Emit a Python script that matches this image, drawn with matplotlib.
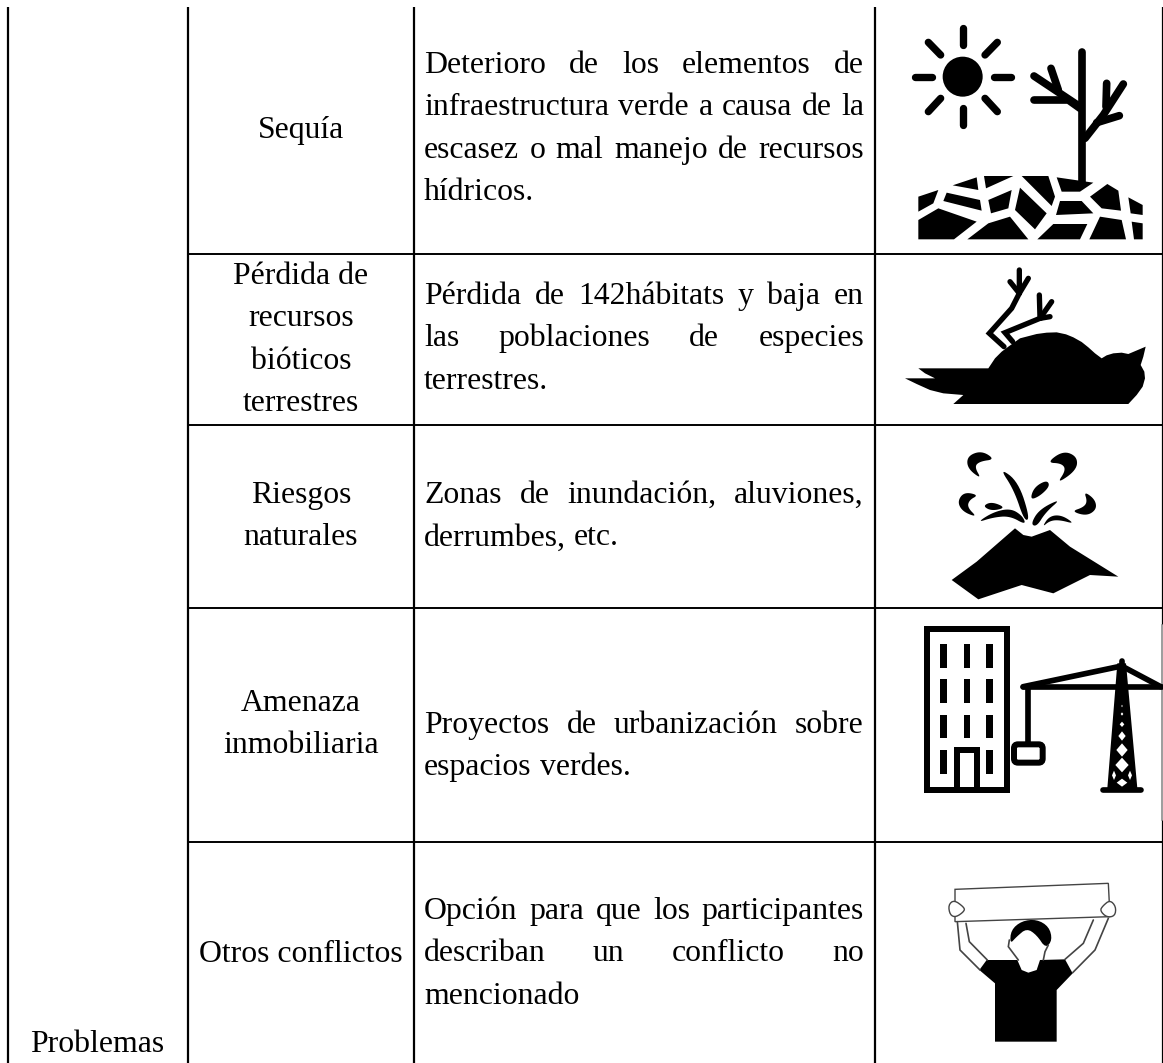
import matplotlib
matplotlib.use("Agg")
import matplotlib.pyplot as plt
from matplotlib.patches import Circle, FancyBboxPatch, Polygon, Rectangle

plt.rcParams["font.family"] = ["Liberation Serif", "DejaVu Serif"]

FONT_SIZE = 22.9

PROBLEM_LABEL = "Problemas"
CONFLICTS = ["Sequía", "Pérdida de\nrecursos\nbióticos\nterrestres", "Riesgos\nnaturales",
             "Amenaza\ninmobiliaria", "Otros conflictos"]
DESCRIPTIONS = [
    ["Deterioro de los elementos de", "infraestructura verde a causa de la",
     "escasez o mal manejo de recursos", "hídricos."],
    ["Pérdida de 142hábitats y baja en", "las poblaciones de especies", "terrestres."],
    ["Zonas de inundación, aluviones,", "derrumbes, etc."],
    ["Proyectos de urbanización sobre", "espacios verdes."],
    ["Opción para que los participantes", "describan un conflicto no", "mencionado"],
]
# first baseline of each cell
CONFLICT_BASELINES = [138, 284, 503, 711, 962]
DESC_BASELINES = [73, 304, 503, 733, 919]
LINE_STEP = 42.4

COL_X = [7.5, 188, 414, 874.7, 1162.5]
ROW_Y = [254, 425, 607.7, 841.7]

fig = plt.figure(figsize=(11.63, 10.63), dpi=100)
ax = fig.add_axes([0, 0, 1, 1])
ax.set_xlim(0, 1163)
ax.set_ylim(1063, 0)
ax.axis("off")


def z(points, ox, oy):
    return [(ox + px / 3, oy + py / 3) for px, py in points]


def chaikin(points, rounds=3):
    # corner cutting, keeps the hand read outlines from looking jagged
    pts = list(points)
    for _ in range(rounds):
        out = []
        for i, (x0, y0) in enumerate(pts):
            x1, y1 = pts[(i + 1) % len(pts)]
            out.append((0.75 * x0 + 0.25 * x1, 0.75 * y0 + 0.25 * y1))
            out.append((0.25 * x0 + 0.75 * x1, 0.25 * y0 + 0.75 * y1))
        pts = out
    return pts


def justified(line, y, left, right, last=False):
    words = line.split()
    rend = fig.canvas.get_renderer()
    widths = []
    for w in words:
        t = ax.text(0, 0, w, fontsize=FONT_SIZE)
        widths.append(t.get_window_extent(rend).width)
        t.remove()
    if last or len(words) == 1:
        gap = 8
    else:
        gap = (right - left - sum(widths)) / (len(words) - 1)
    x = left
    for w, wd in zip(words, widths):
        ax.text(x, y, w, fontsize=FONT_SIZE, va="baseline", ha="left", color="black")
        x += wd + gap


def fill(points, ox, oy, color="black", **kw):
    ax.add_patch(Polygon(z(points, ox, oy), closed=True, fc=color, ec="none", **kw))


def stroke(points, ox, oy, w, color="black", cap="round", zorder=3):
    xy = z(points, ox, oy)
    ax.plot([p[0] for p in xy], [p[1] for p in xy], color=color, lw=w * 0.24,
            solid_capstyle=cap, solid_joinstyle="miter", zorder=zorder)


def draw_sequia(ox=880, oy=0):
    ax.add_patch(Circle((ox + 248 / 3, oy + 230 / 3), 60 / 3, fc="black", ec="none"))
    rays = [[(248, 85), (248, 135)], [(248, 325), (248, 375)], [(105, 230), (155, 230)],
            [(343, 230), (393, 230)], [(145, 127), (182, 165)], [(352, 127), (315, 165)],
            [(145, 335), (182, 295)], [(352, 335), (315, 295)]]
    for r in rays:
        stroke(r, ox, oy, 22)
    branches = [[(607, 155), (607, 545)], [(462, 228), (540, 280), (600, 320)],
                [(513, 205), (535, 270)], [(462, 300), (565, 300), (600, 325)],
                [(730, 252), (670, 345), (615, 415)], [(680, 250), (678, 320)],
                [(718, 347), (650, 368)]]
    for b in branches:
        stroke(b, ox, oy, 23)
    ground = [
        [(115, 590), (175, 570), (160, 610), (115, 635)],
        [(218, 556), (290, 532), (295, 570)],
        [(312, 528), (400, 528), (318, 565)],
        [(425, 528), (505, 528), (525, 590), (515, 618)],
        [(530, 532), (640, 548), (600, 575), (545, 575)],
        [(200, 578), (300, 600), (305, 632), (190, 603)],
        [(325, 600), (395, 570), (385, 625), (333, 640)],
        [(420, 563), (500, 640), (465, 688), (405, 630)],
        [(540, 603), (605, 603), (640, 640), (528, 645)],
        [(682, 552), (715, 572), (723, 632), (665, 625), (630, 590)],
        [(745, 592), (788, 615), (788, 645), (752, 640)],
        [(115, 660), (175, 625), (290, 665), (222, 718), (115, 718)],
        [(325, 670), (390, 650), (445, 718), (262, 718)],
        [(520, 672), (622, 672), (600, 718), (472, 718)],
        [(660, 650), (725, 660), (738, 718), (628, 718)],
        [(755, 665), (788, 670), (788, 718), (762, 718)],
    ]
    for g in ground:
        fill(g, ox, oy)


def draw_bird(ox=880, oy=0):
    body = [(115, 1105), (325, 1105), (335, 1090), (345, 1075), (365, 1055), (385, 1040),
            (420, 1015), (470, 1002), (500, 998), (530, 997), (558, 1003), (580, 1012),
            (605, 1026), (625, 1042), (645, 1060), (665, 1075), (680, 1066), (700, 1060),
            (725, 1058), (745, 1062), (797, 1040), (790, 1070), (782, 1095), (793, 1115),
            (795, 1135), (788, 1160), (770, 1185), (745, 1212), (220, 1212), (250, 1185),
            (190, 1180), (150, 1170), (110, 1152), (75, 1135), (165, 1135), (135, 1120)]
    fill(body, ox, oy)
    legs = [[(372, 1040), (328, 1000), (395, 925), (418, 880), (418, 810)],
            [(418, 880), (390, 845)], [(418, 880), (445, 835)],
            [(398, 1025), (375, 998), (480, 955), (478, 885)],
            [(480, 955), (515, 905)], [(480, 955), (510, 950)]]
    for leg in legs:
        stroke(leg, ox, oy, 16)


def draw_volcano(ox=880, oy=420):
    cone = [(215, 480), (290, 425), (405, 325), (430, 345), (455, 350), (510, 330), (570, 380),
            (715, 470), (630, 465), (520, 520), (425, 495), (295, 538)]
    fill(cone, ox, oy)
    drops = [
        [(345, 118), (305, 92), (262, 108), (262, 145), (305, 178), (283, 140), (300, 124)],
        [(500, 128), (550, 92), (592, 110), (590, 150), (530, 192), (558, 150), (545, 130)],
        [(296, 225), (252, 216), (232, 245), (248, 275), (292, 292), (262, 262), (268, 240)],
        [(612, 214), (645, 238), (650, 268), (620, 288), (574, 274), (610, 262), (622, 245)],
        [(500, 180), (510, 198), (480, 228), (450, 240), (462, 202)],
        [(308, 258), (335, 245), (378, 263), (335, 273)],
        [(358, 143), (415, 185), (450, 295), (433, 303), (402, 210)],
        [(290, 308), (340, 276), (392, 265), (428, 288), (438, 315), (390, 288), (340, 292)],
        [(452, 312), (478, 268), (545, 235), (497, 277), (470, 320)],
        [(486, 322), (508, 288), (545, 285), (585, 312), (540, 300), (510, 302)],
    ]
    for d in drops:
        fill(chaikin(d), ox, oy)


def draw_building_crane(ox=880, oy=420):
    # the pasted picture covers the right rule with a thin grey edge
    ax.add_patch(Rectangle((1150, 625), 13, 195, fc="white", ec="none", zorder=3))
    ax.plot([1162.3, 1162.3], [625, 820], color="#8c8c8c", lw=1.2, zorder=4)
    ax.add_patch(Rectangle((ox + 142 / 3, oy + 626 / 3), 238 / 3, 485 / 3, fc="white", ec="black",
                           lw=18 * 0.24, zorder=4, joinstyle="miter"))
    for wx in [190, 261, 328]:
        for wy in [672, 778, 884, 990]:
            if wx == 261 and wy == 990:
                continue
            ax.add_patch(Rectangle((ox + (wx - 10) / 3, oy + wy / 3), 20 / 3, 71 / 3,
                                   fc="black", ec="none", zorder=5))
    ax.add_patch(Rectangle((ox + 231 / 3, oy + 989 / 3), 60 / 3, 120 / 3, fc="white", ec="black",
                           lw=18 * 0.24, zorder=5, joinstyle="miter"))
    tower = [(712, 730), (738, 730), (772, 1105), (682, 1105)]
    ax.add_patch(Polygon(z(tower, ox, oy), closed=True, fc="black", ec="none", zorder=5))
    lines = [[(430, 800), (847, 800)], [(430, 800), (725, 738)], [(725, 738), (842, 800)],
             [(725, 722), (725, 760)], [(445, 800), (445, 970)], [(670, 1110), (782, 1110)]]
    for ln in lines:
        stroke(ln, ox, oy, 17, zorder=5)
    holes = [(726, 858, 2, 4), (726, 882, 4, 5), (726, 913, 7, 8), (726, 948, 11, 14),
             (726, 990, 17, 20), (726, 1035, 20, 22), (702, 1066, 6, 14), (750, 1066, 6, 14),
             (726, 1088, 16, 12)]
    for hx, hy, rx, ry in holes:
        pts = [(hx - rx, hy), (hx, hy - ry), (hx + rx, hy), (hx, hy + ry)]
        ax.add_patch(Polygon(z(pts, ox, oy), closed=True, fc="white", ec="none", zorder=6))
    ax.add_patch(FancyBboxPatch((ox + 402 / 3, oy + 973 / 3), 86 / 3, 55 / 3,
                                boxstyle="round,pad=0,rounding_size=4", fc="white", ec="black",
                                lw=18 * 0.24, zorder=6))


def draw_person(ox=880, oy=820):
    ink = "#444444"
    ax.add_patch(Polygon(z([(225, 208), (685, 190), (690, 290), (225, 305)], ox, oy), closed=True,
                         fc="white", ec=ink, lw=1.0))
    thin = [[(232, 305), (240, 390), (300, 450)], [(258, 310), (268, 365), (322, 420)],
            [(640, 300), (610, 370), (555, 418)], [(685, 295), (645, 390), (578, 458)],
            [(388, 360), (385, 380), (415, 420)], [(505, 375), (495, 395), (490, 420)]]
    for t in thin:
        stroke(t, ox, oy, 5, color=ink)
    hands = [[(222, 240), (250, 260), (255, 272), (228, 292), (210, 285), (205, 255)],
             [(690, 240), (708, 260), (705, 288), (680, 292), (660, 272), (668, 258)]]
    for h in hands:
        ax.add_patch(Polygon(chaikin(z(h, ox, oy), 2), closed=True, fc="white", ec=ink, lw=1.0))
    shirt = [(298, 450), (320, 420), (412, 420), (425, 450), (445, 458), (470, 450), (480, 420),
             (555, 418), (578, 460), (530, 510), (530, 665), (345, 665), (345, 490)]
    fill(shirt, ox, oy)
    hair = [(390, 372), (393, 330), (425, 303), (470, 298), (507, 320), (517, 360), (497, 385),
            (470, 345), (440, 325), (410, 350)]
    fill(chaikin(hair, 2), ox, oy)


# rules
for x in COL_X:
    ax.plot([x, x], [7, 1063], color="black", lw=1.6, solid_capstyle="butt", zorder=2)
for y in ROW_Y:
    ax.plot([COL_X[1], COL_X[-1]], [y, y], color="black", lw=1.4, solid_capstyle="butt", zorder=2)

ax.text(30, 1051.5, PROBLEM_LABEL, fontsize=FONT_SIZE, va="baseline", ha="left")

for label, base in zip(CONFLICTS, CONFLICT_BASELINES):
    for j, part in enumerate(label.split("\n")):
        ax.text(301, base + j * LINE_STEP, part, fontsize=FONT_SIZE, va="baseline", ha="center")

for lines, base in zip(DESCRIPTIONS, DESC_BASELINES):
    for j, line in enumerate(lines):
        justified(line, base + j * LINE_STEP, 424, 864, last=j == len(lines) - 1)

draw_sequia()
draw_bird()
draw_volcano()
draw_building_crane()
draw_person()

fig.savefig("out.png", dpi=100, facecolor="white")
